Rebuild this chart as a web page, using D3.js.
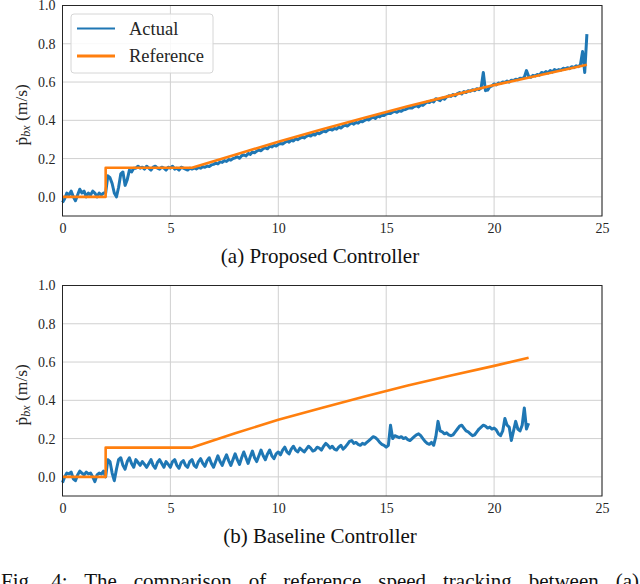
<!DOCTYPE html>
<html>
<head>
<meta charset="utf-8">
<script src="https://cdn.jsdelivr.net/npm/d3@7"></script>
<style>
  body { margin: 0; background: #fff; }
  svg { display: block; }
  svg text { font-family: "Liberation Serif", "DejaVu Serif", serif; }
  .grid line { stroke: #d0d0d0; stroke-width: 1; }
  .tick text { fill: #262626; font-size: 14px; }
</style>
</head>
<body>
<svg id="c" width="640" height="584"></svg>
<script>
// sample interval of the logged speed (s)
let dt = 0.1;

let xTicks = [0, 5, 10, 15, 20, 25];
let yTicks = [0.0, 0.2, 0.4, 0.6, 0.8, 1.0];

// (a) proposed controller
let refTimeA = [0, 2, 2, 6, 8, 10, 12, 14, 16, 18, 20, 22, 24.3];
let refSpeedA = [0, 0, 0.152, 0.152, 0.22, 0.288, 0.352, 0.414, 0.473, 0.529, 0.584, 0.633, 0.69];
let actualA = [
  -0.03, -0.01, 0.02, 0.01, 0.03, 0.00, -0.02, 0.01, 0.04, 0.02, 0.03, 0.00, 0.02, 0.01, 0.03, 0.02, 0.00, 0.02, 0.01, 0.02,
  0.02, 0.11, 0.10, 0.07, 0.02, 0.00, 0.05, 0.12, 0.13, 0.06, 0.09, 0.14, 0.13, 0.15, 0.15,
  0.16, 0.15, 0.155, 0.145, 0.16, 0.15, 0.14, 0.155, 0.16, 0.15, 0.145, 0.155, 0.15, 0.14, 0.155, 0.15, 0.16, 0.145, 0.15, 0.14, 0.155, 0.15, 0.145, 0.14, 0.15,
  0.145, 0.15, 0.146, 0.153, 0.15, 0.157, 0.155, 0.161, 0.159, 0.167,
  0.17, 0.176, 0.172, 0.183, 0.18, 0.19, 0.185, 0.195, 0.192, 0.2,
  0.204, 0.21, 0.202, 0.215, 0.219, 0.214, 0.227, 0.222, 0.234, 0.23,
  0.239, 0.245, 0.241, 0.252, 0.256, 0.251, 0.264, 0.261, 0.269, 0.266,
  0.274, 0.279, 0.276, 0.284, 0.292, 0.286, 0.296, 0.292, 0.304, 0.299,
  0.306, 0.312, 0.308, 0.316, 0.322, 0.318, 0.327, 0.323, 0.334, 0.33,
  0.337, 0.344, 0.34, 0.349, 0.354, 0.349, 0.358, 0.354, 0.364, 0.36,
  0.369, 0.375, 0.37, 0.379, 0.386, 0.38, 0.389, 0.385, 0.395, 0.392,
  0.4, 0.405, 0.402, 0.412, 0.417, 0.41, 0.422, 0.418, 0.427, 0.425,
  0.433, 0.437, 0.435, 0.443, 0.447, 0.442, 0.45, 0.447, 0.455, 0.457,
  0.462, 0.466, 0.464, 0.472, 0.476, 0.47, 0.481, 0.478, 0.487, 0.496,
  0.493, 0.503, 0.496, 0.513, 0.508, 0.503, 0.516, 0.51, 0.522, 0.528,
  0.525, 0.535, 0.528, 0.54, 0.545, 0.538, 0.55, 0.545, 0.555, 0.552,
  0.56, 0.555, 0.565, 0.56, 0.57, 0.65, 0.555, 0.558, 0.575, 0.58,
  0.59, 0.585, 0.595, 0.592, 0.6, 0.598, 0.605, 0.6, 0.61, 0.608,
  0.615, 0.612, 0.62, 0.618, 0.625, 0.66, 0.63, 0.625, 0.635, 0.632,
  0.64, 0.636, 0.65, 0.645, 0.655, 0.648, 0.66, 0.652, 0.665, 0.66,
  0.665, 0.662, 0.672, 0.668, 0.675, 0.67, 0.68, 0.675, 0.685, 0.68,
  0.69, 0.76, 0.65, 0.85
];

// (b) baseline controller
let refTimeB = [0, 2, 2, 6, 8, 10, 12, 14, 16, 18, 20, 21.6];
let refSpeedB = [0, 0, 0.153, 0.153, 0.228, 0.298, 0.36, 0.42, 0.478, 0.53, 0.58, 0.622];
let actualB = [
  -0.03, 0.0, 0.02, 0.015, 0.025, -0.01, -0.02, 0.01, 0.03, 0.02, 0.01, 0.025, 0.015, 0.02, 0.0, -0.025, 0.01, 0.02, 0.015, 0.03,
  0.0, 0.09, 0.08, 0.02, -0.02, 0.04, 0.09, 0.1, 0.06, 0.04,
  0.08, 0.1, 0.07, 0.05, 0.09, 0.075, 0.06, 0.08, 0.065, 0.05,
  0.07, 0.09, 0.06, 0.045, 0.075, 0.09, 0.07, 0.05, 0.08, 0.065,
  0.05, 0.08, 0.09, 0.06, 0.045, 0.075, 0.085, 0.06, 0.05, 0.08,
  0.09, 0.06, 0.05, 0.08, 0.095, 0.07, 0.055, 0.085, 0.1, 0.07,
  0.05, 0.08, 0.11, 0.08, 0.06, 0.09, 0.115, 0.085, 0.06, 0.09,
  0.12, 0.09, 0.065, 0.1, 0.13, 0.1, 0.07, 0.105, 0.135, 0.1,
  0.08, 0.11, 0.14, 0.11, 0.09, 0.12, 0.14, 0.11, 0.095, 0.12,
  0.13, 0.115, 0.14, 0.155, 0.13, 0.12, 0.145, 0.16, 0.14, 0.13,
  0.15, 0.14, 0.13, 0.145, 0.16, 0.15, 0.135, 0.14, 0.155, 0.15,
  0.14, 0.16, 0.175, 0.165, 0.15, 0.16, 0.145, 0.14, 0.155, 0.165,
  0.145, 0.155, 0.17, 0.185, 0.19, 0.175, 0.18, 0.17, 0.165, 0.175,
  0.17, 0.18, 0.19, 0.2, 0.21, 0.205, 0.195, 0.18, 0.17, 0.165,
  0.155, 0.165, 0.27, 0.2, 0.215, 0.21, 0.205, 0.21, 0.2, 0.205,
  0.195, 0.19, 0.2, 0.21, 0.22, 0.225, 0.215, 0.2, 0.185, 0.175,
  0.17, 0.18, 0.165, 0.21, 0.29, 0.24, 0.235, 0.225, 0.23, 0.22,
  0.215, 0.22, 0.235, 0.25, 0.265, 0.27, 0.255, 0.24, 0.235, 0.225,
  0.215, 0.22, 0.235, 0.25, 0.26, 0.27, 0.265, 0.255, 0.26, 0.25,
  0.255, 0.245, 0.225, 0.215, 0.24, 0.305, 0.27, 0.26, 0.19, 0.24,
  0.29, 0.25, 0.24, 0.27, 0.36, 0.25, 0.28
];

let seriesNames = ["Actual", "Reference"];
let seriesColors = ["#1f77b4", "#ff7f0e"];
let serif = "Liberation Serif, DejaVu Serif, serif";

let svg = d3.select("#c");

function drawPanel(top, actual, refTime, refSpeed, caption, showLegend)
{
	let left = 62.5, right = 602, height = 210.5;

	let x = d3.scaleLinear().domain([0, 25]).range([left, right]);
	let y = d3.scaleLinear().domain([-0.1, 1.0]).range([top + height, top]);

	let g = svg.append("g");

	// grid
	g.append("g").attr("class", "grid").selectAll("line").data(yTicks).enter().append("line")
		.attr("x1", left).attr("x2", right).attr("y1", d => y(d)).attr("y2", d => y(d));
	g.append("g").attr("class", "grid").selectAll("line").data(xTicks).enter().append("line")
		.attr("x1", d => x(d)).attr("x2", d => x(d)).attr("y1", top).attr("y2", top + height);

	// axes, labels only
	let xAxis = g.append("g").attr("transform", "translate(0," + (top + height) + ")")
		.call(d3.axisBottom(x).tickValues(xTicks).tickFormat(d3.format("d")).tickSize(0).tickPadding(7));
	let yAxis = g.append("g").attr("transform", "translate(" + left + ",0)")
		.call(d3.axisLeft(y).tickValues(yTicks).tickFormat(d3.format(".1f")).tickSize(0).tickPadding(7));
	xAxis.select(".domain").remove();
	yAxis.select(".domain").remove();
	xAxis.attr("font-family", serif).selectAll("text").attr("font-family", serif);
	yAxis.attr("font-family", serif).selectAll("text").attr("font-family", serif);

	let actualLine = d3.line().x((d, i) => x(i * dt)).y(d => y(d));
	let refLine = d3.line().x((d, i) => x(refTime[i])).y(d => y(d));

	g.append("path").datum(actual).attr("d", actualLine)
		.attr("fill", "none").attr("stroke", seriesColors[0]).attr("stroke-width", 3).attr("stroke-linejoin", "round");
	g.append("path").datum(refSpeed).attr("d", refLine)
		.attr("fill", "none").attr("stroke", seriesColors[1]).attr("stroke-width", 2.6).attr("stroke-linejoin", "round");

	// frame
	g.append("rect").attr("x", left).attr("y", top).attr("width", right - left).attr("height", height)
		.attr("fill", "none").attr("stroke", "#262626").attr("stroke-width", 1);

	// y label
	let label = g.append("text")
		.attr("transform", "translate(27," + (top + height / 2 + 4) + ") rotate(-90)")
		.attr("text-anchor", "middle").attr("font-family", serif).attr("font-size", "17.5px").attr("fill", "#262626");
	label.append("tspan").text("\u1E57");
	label.append("tspan").text("bx").attr("font-style", "italic").attr("font-size", "12px").attr("dy", 3);
	label.append("tspan").text(" (m/s)").attr("dy", -3);

	// caption
	svg.append("text").attr("x", 320).attr("y", top + height + 47).attr("text-anchor", "middle")
		.attr("font-family", serif).attr("font-size", "21px").attr("fill", "#111").text(caption);

	if (showLegend)
	{
		let lg = g.append("g").attr("transform", "translate(71,14)");
		lg.append("rect").attr("width", 142).attr("height", 59).attr("rx", 3)
			.attr("fill", "#fff").attr("fill-opacity", 0.85).attr("stroke", "#d6d6d6");
		seriesNames.forEach(function(name, i) {
			lg.append("line").attr("x1", 6).attr("x2", 44).attr("y1", 14.5 + i * 27.5).attr("y2", 14.5 + i * 27.5)
				.attr("stroke", seriesColors[i]).attr("stroke-width", i == 0 ? 2.2 : 2.8);
			lg.append("text").attr("x", 58).attr("y", 20.5 + i * 27.5).attr("font-family", serif)
				.attr("font-size", "18.5px").attr("fill", "#262626").text(name);
		});
	}
}

drawPanel(5.5, actualA, refTimeA, refSpeedA, "(a) Proposed Controller", true);
drawPanel(285.5, actualB, refTimeB, refSpeedB, "(b) Baseline Controller", false);

// figure caption, justified across the page
let fig = svg.append("text").attr("x", 1).attr("y", 588).attr("font-family", serif).attr("font-size", "21px").attr("fill", "#111")
	.text("Fig. 4: The comparison of reference speed tracking between (a)");
let words = 9;
let w = fig.node().getComputedTextLength();
fig.attr("word-spacing", ((638 - w) / words) + "px");
</script>
</body>
</html>
